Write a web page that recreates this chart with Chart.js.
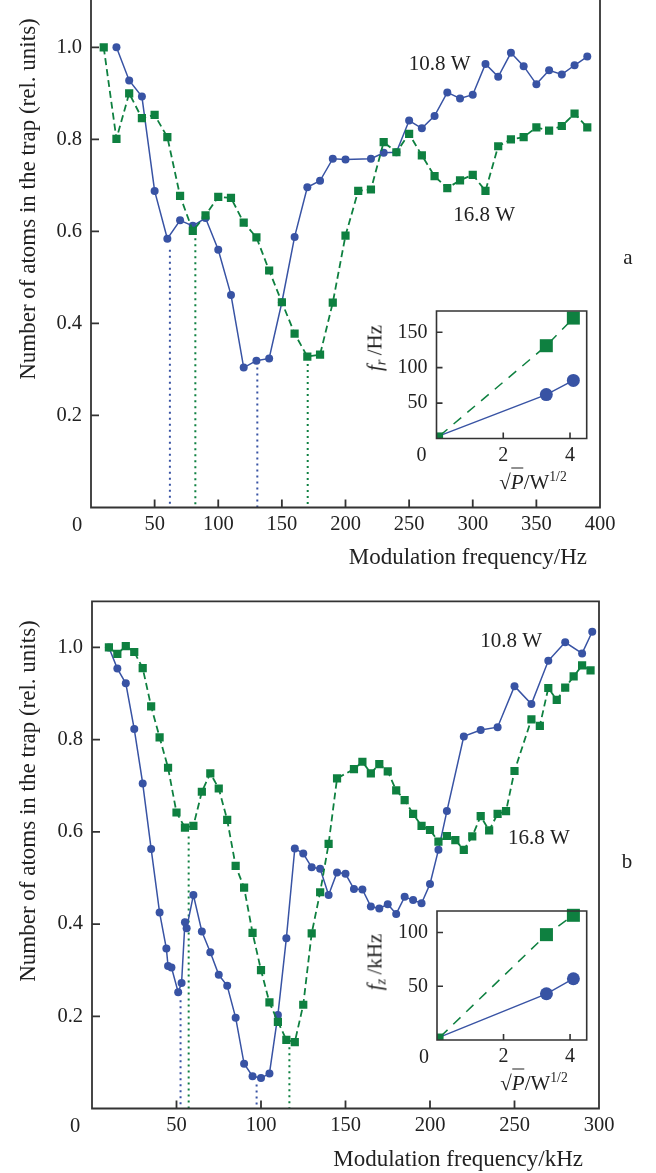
<!DOCTYPE html>
<html lang="en">
<head>
<meta charset="UTF-8">
<title>Atom loss under trap modulation</title>
<style>
  body { margin: 0; background: #fff; }
  #page { position: relative; width: 656px; height: 1173px; overflow: hidden; font-family: 'Liberation Serif', serif; color: #222; }
  canvas { position: absolute; }
  .txt { position: absolute; white-space: nowrap; line-height: 1; }
  .c { transform: translate(-50%, -50%); }
  .ytitle { font-size: 23px; transform: translate(-50%, -50%) rotate(-90deg); }
  .xtitle { font-size: 23px; }
  .tag { font-size: 21px; }
  .itl { font-size: 21px; }
  .itl.v { transform: translate(-50%, -50%) rotate(-90deg); }
  sub { font-size: 0.7em; vertical-align: -0.3em; line-height: 0; }
  sup { font-size: 0.65em; vertical-align: 0.55em; line-height: 0; }
  .ol { border-top: 1.5px solid #222; padding-top: 1px; }
</style>
</head>
<body>
<div id="page">
  <canvas id="mainA" width="656" height="590" style="left:0;top:-20px"></canvas>
  <canvas id="mainB" width="656" height="593" style="left:0;top:580px"></canvas>
  <canvas id="insetA" width="220" height="200" style="left:380px;top:290px"></canvas>
  <canvas id="insetB" width="220" height="200" style="left:380px;top:890px"></canvas>

  <div class="txt ytitle" style="left:27px;top:199px">Number of atoms in the trap (rel. units)</div>
  <div class="txt ytitle" style="left:27px;top:801px">Number of atoms in the trap (rel. units)</div>
  <div class="txt xtitle" style="right:69px;top:545px">Modulation frequency/Hz</div>
  <div class="txt xtitle" style="right:73px;top:1147px">Modulation frequency/kHz</div>
  <div class="txt tag c" style="left:628px;top:257px">a</div>
  <div class="txt tag c" style="left:627px;top:861px">b</div>

  <div class="txt itl v" style="left:375px;top:348px"><i>f</i><sub><i>r</i></sub>&thinsp;/Hz</div>
  <div class="txt itl c" style="left:533px;top:482px">√<span class="ol"><i>P</i></span>/W<sup>1/2</sup></div>
  <div class="txt itl v" style="left:375px;top:962px"><i>f</i><sub><i>z</i></sub>&thinsp;/kHz</div>
  <div class="txt itl c" style="left:534px;top:1083px">√<span class="ol"><i>P</i></span>/W<sup>1/2</sup></div>
</div>

<script src="https://cdn.jsdelivr.net/npm/chart.js@4.4.1/dist/chart.umd.min.js"></script>
<script>
  const BLUE = '#3853a4';
  const GREEN = '#0e8040';
  const INK = '#222';
  const FONT = 'Liberation Serif';

  // (a) radial modulation, frequency in Hz
  const freqA168 = [10, 20, 30, 40, 50, 60, 70, 80, 90, 100, 110, 120, 130, 140, 150, 160, 170, 180, 190, 200,
    210, 220, 230, 240, 250, 260, 270, 280, 290, 300, 310, 320, 330, 340, 350, 360, 370, 380, 390];
  const atomsA168 = [1.000, 0.801, 0.900, 0.846, 0.853, 0.805, 0.677, 0.601, 0.635, 0.675,
    0.673, 0.619, 0.587, 0.515, 0.446, 0.378, 0.328, 0.332, 0.445, 0.591,
    0.688, 0.691, 0.794, 0.772, 0.812, 0.765, 0.720, 0.694, 0.711, 0.723,
    0.688, 0.785, 0.800, 0.805, 0.826, 0.819, 0.829, 0.856, 0.826];
  const freqA108 = [20, 30, 40, 50, 60, 70, 80, 90, 100, 110, 120, 130, 140, 150, 160, 170, 180, 190, 200,
    220, 230, 240, 250, 260, 270, 280, 290, 300, 310, 320, 330, 340, 350, 360, 370, 380, 390];
  const atomsA108 = [1.000, 0.928, 0.893, 0.688, 0.584, 0.624, 0.612, 0.629, 0.560, 0.462,
    0.304, 0.319, 0.324, 0.446, 0.588, 0.696, 0.710, 0.758, 0.756,
    0.758, 0.771, 0.772, 0.841, 0.824, 0.851, 0.902, 0.889, 0.897,
    0.964, 0.936, 0.988, 0.959, 0.920, 0.950, 0.941, 0.961, 0.980];
  // resonance markers (dotted drops to the axis)
  const dipsA108 = [62, 130.7];
  const dipTopsA108 = [0.56, 0.304];
  const dipsA168 = [82, 170.3];
  const dipTopsA168 = [0.585, 0.312];
  const xTicksA = [0, 50, 100, 150, 200, 250, 300, 350, 400];

  // (b) axial modulation, frequency in kHz
  const freqB168 = [10, 15, 20, 25, 30, 35, 40, 45, 50, 55, 60, 65, 70, 75, 80, 85, 90, 95, 100, 105,
    110, 115, 120, 125, 130, 135, 140, 145, 155, 160, 165, 170, 175, 180, 185, 190, 195, 200,
    205, 210, 215, 220, 225, 230, 235, 240, 245, 250, 260, 265, 270, 275, 280, 285, 290, 295];
  const atomsB168 = [1.000, 0.986, 1.003, 0.990, 0.955, 0.872, 0.805, 0.739, 0.642, 0.609,
    0.613, 0.687, 0.727, 0.694, 0.626, 0.526, 0.479, 0.381, 0.300, 0.230,
    0.188, 0.149, 0.144, 0.225, 0.380, 0.469, 0.574, 0.716,
    0.736, 0.752, 0.727, 0.747, 0.731, 0.690, 0.669, 0.639, 0.613, 0.604,
    0.579, 0.591, 0.582, 0.561, 0.590, 0.634, 0.603, 0.639, 0.645, 0.732,
    0.844, 0.830, 0.912, 0.886, 0.913, 0.937, 0.961, 0.950];
  const freqB108 = [10, 15, 20, 25, 30, 35, 40, 44, 45, 47, 51, 53, 55, 56,
    60, 65, 70, 75, 80, 85, 90, 95, 100, 105, 110, 115, 120, 125, 130, 135, 140, 145, 150, 155,
    160, 165, 170, 175, 180, 185, 190, 195, 200, 205, 210, 220, 230, 240, 250, 260, 270, 280, 290, 296];
  const atomsB108 = [1.000, 0.954, 0.922, 0.823, 0.705, 0.563, 0.425, 0.347, 0.309, 0.306, 0.252, 0.272, 0.404, 0.391,
    0.463, 0.384, 0.339, 0.290, 0.266, 0.197, 0.097, 0.070, 0.066, 0.076,
    0.203, 0.369, 0.564, 0.553, 0.523, 0.520, 0.463, 0.512, 0.509, 0.476,
    0.475, 0.438, 0.434, 0.443, 0.422, 0.459, 0.452, 0.445, 0.487, 0.561,
    0.645, 0.807, 0.821, 0.827, 0.916, 0.877, 0.971, 1.011, 0.987, 1.034];
  const dipsB108 = [52.4, 97.4];
  const dipTopsB108 = [0.235, 0.052];
  const dipsB168 = [57.2, 116.8];
  const dipTopsB168 = [0.59, 0.133];
  const xTicksB = [0, 50, 100, 150, 200, 250, 300];

  const yTicksMain = [0.2, 0.4, 0.6, 0.8, 1.0];

  // insets: trap frequency vs sqrt(P)
  const sqrtP = [0.1, 3.29, 4.10];
  const frA108 = [4, 62, 82];
  const frA168 = [4, 131, 170];
  const fzB108 = [3, 43, 57];
  const fzB168 = [3, 98, 116];
  const xTicksInset = [0, 2, 4];
  const yTicksInsetA = [50, 100, 150];
  const yTicksInsetB = [50, 100];

  const pts = (xs, ys) => xs.map((x, i) => ({ x, y: ys[i] }));
  const drops = (xs, tops) => xs.flatMap((x, i) => [{ x, y: tops[i] }, { x, y: 0 }, { x, y: null }]);

  // box around the plot, inward tick marks and the shared "0" at the corner
  const frame = {
    id: 'frame',
    afterDraw(chart, args, o) {
      const { ctx, chartArea: a } = chart;
      const { x, y } = chart.scales;
      ctx.save();
      ctx.strokeStyle = '#333';
      ctx.lineWidth = o.lineWidth;
      ctx.beginPath();
      if (o.openTop) {
        ctx.moveTo(a.left, a.top - 10);
        ctx.lineTo(a.left, a.bottom);
        ctx.lineTo(a.right, a.bottom);
        ctx.lineTo(a.right, a.top - 10);
      } else {
        ctx.rect(a.left, a.top, a.right - a.left, a.bottom - a.top);
      }
      x.ticks.forEach(t => {
        if (t.value <= x.min || t.value >= x.max) return;
        const px = x.getPixelForValue(t.value);
        ctx.moveTo(px, a.bottom);
        ctx.lineTo(px, a.bottom - o.tick);
      });
      y.ticks.forEach(t => {
        if (t.value <= y.min || t.value >= y.max) return;
        const py = y.getPixelForValue(t.value);
        ctx.moveTo(a.left, py);
        ctx.lineTo(a.left + o.tick, py);
      });
      ctx.stroke();
      ctx.fillStyle = INK;
      ctx.font = o.font;
      ctx.textAlign = 'center';
      ctx.textBaseline = 'middle';
      ctx.fillText('0', a.left + o.zero[0], a.bottom + o.zero[1]);
      ctx.restore();
    }
  };

  // power labels next to the curves, placed in data units
  const notes = {
    id: 'notes',
    afterDatasetsDraw(chart, args, o) {
      if (!o.items) return;
      const { ctx } = chart;
      const { x, y } = chart.scales;
      ctx.save();
      ctx.fillStyle = INK;
      ctx.font = o.font;
      ctx.textAlign = 'center';
      ctx.textBaseline = 'middle';
      o.items.forEach(n => ctx.fillText(n.text, x.getPixelForValue(n.x), y.getPixelForValue(n.y)));
      ctx.restore();
    }
  };

  function axes(c) {
    return {
      x: {
        type: 'linear', min: 0, max: c.xMax,
        grid: { display: false, drawTicks: false }, border: { display: false },
        afterBuildTicks: s => { s.ticks = c.xTicks.map(v => ({ value: v })); },
        afterFit: s => { s.height = c.xH; },
        ticks: { autoSkip: false, maxRotation: 0, padding: c.xPad, color: INK,
          font: { family: FONT, size: c.fs }, callback: v => (v === 0 ? '' : v) }
      },
      y: {
        type: 'linear', min: 0, max: c.yMax,
        grid: { display: false, drawTicks: false }, border: { display: false },
        afterBuildTicks: s => { s.ticks = c.yTicks.map(v => ({ value: v })); },
        afterFit: s => { s.width = c.yW; },
        ticks: { padding: c.yPad, color: INK, font: { family: FONT, size: c.fs }, callback: c.yFmt }
      }
    };
  }

  function mainPanel(id, c) {
    return new Chart(document.getElementById(id), {
      type: 'line',
      data: {
        datasets: [
          { data: pts(c.f168, c.a168), borderColor: GREEN, backgroundColor: GREEN, borderWidth: 1.8,
            borderDash: [7, 4], pointStyle: 'rect', pointRadius: 5.8, pointBorderWidth: 0 },
          { data: pts(c.f108, c.a108), borderColor: BLUE, backgroundColor: BLUE, borderWidth: 1.5,
            pointStyle: 'circle', pointRadius: 4, pointBorderWidth: 0 },
          { data: drops(c.d108, c.t108), borderColor: BLUE, borderWidth: 2, borderDash: [2, 4], pointRadius: 0 },
          { data: drops(c.d168, c.t168), borderColor: GREEN, borderWidth: 2, borderDash: [2, 4], pointRadius: 0 }
        ]
      },
      options: {
        responsive: false, animation: false, events: [],
        layout: { padding: c.pad },
        plugins: {
          legend: { display: false }, tooltip: { enabled: false },
          frame: { lineWidth: 1.8, tick: 8, font: `${c.fs || 20.5}px ${FONT}`, zero: c.zero, openTop: c.openTop },
          notes: { font: `21px ${FONT}`, items: c.notes }
        },
        scales: axes({ xMax: c.xMax, xTicks: c.xTicks, xH: c.xH, xPad: 5, yMax: 1.1, yTicks: yTicksMain,
          yW: c.yW, yPad: 9, fs: 20.5, yFmt: v => v.toFixed(1) })
      },
      plugins: [frame, notes]
    });
  }

  function insetPanel(id, c) {
    return new Chart(document.getElementById(id), {
      type: 'line',
      data: {
        datasets: [
          { data: pts(sqrtP, c.g), borderColor: GREEN, backgroundColor: GREEN, borderWidth: 1.5,
            borderDash: [10, 8], pointStyle: 'rect', pointRadius: [4.6, 9.2, 9.2], pointBorderWidth: 0, clip: false },
          { data: pts(sqrtP, c.b), borderColor: BLUE, backgroundColor: BLUE, borderWidth: 1.4,
            pointStyle: 'circle', pointRadius: [0, 6.5, 6.5], pointBorderWidth: 0, clip: false }
        ]
      },
      options: {
        responsive: false, animation: false, events: [],
        layout: { padding: c.pad },
        plugins: {
          legend: { display: false }, tooltip: { enabled: false },
          frame: { lineWidth: 1.6, tick: 6, font: `20px ${FONT}`, zero: c.zero },
          notes: {}
        },
        scales: axes({ xMax: 4.5, xTicks: xTicksInset, xH: c.xH, xPad: 5, yMax: c.yMax, yTicks: c.yTicks,
          yW: c.yW, yPad: 9, fs: 20, yFmt: v => v })
      },
      plugins: [frame, notes]
    });
  }

  mainPanel('mainA', {
    f168: freqA168, a168: atomsA168, f108: freqA108, a108: atomsA108,
    d108: dipsA108, t108: dipTopsA108, d168: dipsA168, t168: dipTopsA168,
    xMax: 400, xTicks: xTicksA, xH: 62.5, yW: 91, openTop: true,
    pad: { top: 18, right: 56, left: 0, bottom: 0 }, zero: [-14, 18],
    notes: [{ text: '10.8 W', x: 274, y: 0.963 }, { text: '16.8 W', x: 309, y: 0.635 }]
  });

  mainPanel('mainB', {
    f168: freqB168, a168: atomsB168, f108: freqB108, a108: atomsB108,
    d108: dipsB108, t108: dipTopsB108, d168: dipsB168, t168: dipTopsB168,
    xMax: 300, xTicks: xTicksB, xH: 64.5, yW: 92,
    pad: { top: 20, right: 57, left: 0, bottom: 0 }, zero: [-17, 18],
    notes: [{ text: '10.8 W', x: 248, y: 1.013 }, { text: '16.8 W', x: 264.5, y: 0.585 }]
  });

  insetPanel('insetA', {
    g: frA168, b: frA108, yMax: 180, yTicks: yTicksInsetA,
    xH: 51.5, yW: 56.5, pad: { top: 17.3, right: 13.3, left: 0, bottom: 0 }, zero: [-15, 17]
  });

  insetPanel('insetB', {
    g: fzB168, b: fzB108, yMax: 120, yTicks: yTicksInsetB,
    xH: 50, yW: 57, pad: { top: 19.3, right: 13.3, left: 0, bottom: 0 }, zero: [-13, 18]
  });
</script>
</body>
</html>
